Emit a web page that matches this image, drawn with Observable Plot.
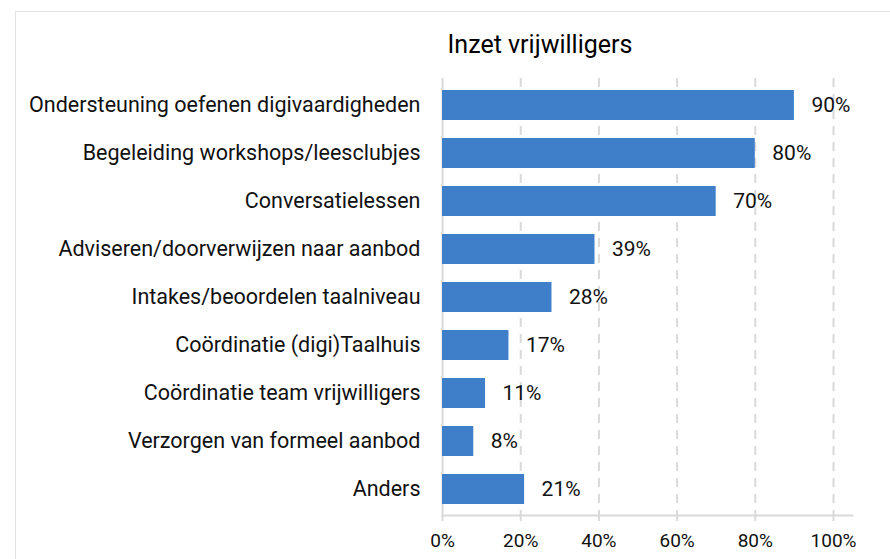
<!DOCTYPE html>
<html>
<head>
<meta charset="utf-8">
<script src="https://cdn.jsdelivr.net/npm/d3@7"></script>
<script src="https://cdn.jsdelivr.net/npm/@observablehq/plot@0.6"></script>
<style>
  body { margin: 0; background: #fff; font-family: Roboto, sans-serif; }
  #wrap { position: relative; width: 890px; height: 559px; overflow: hidden; }
  #frame { position: absolute; left: 15px; top: 11px; width: 900px; height: 600px;
           border-left: 1.5px solid #e2e2e2; border-top: 1.5px solid #e2e2e2; pointer-events: none; }
  #title { position: relative; height: 70px; width: 1080px; text-align: center;
           font-size: 25px; font-weight: 400; line-height: 90px; color: #000; }
  #chart svg { display: block; }
</style>
</head>
<body>
<div id="wrap">
  <div id="frame"></div>
  <div id="title">Inzet vrijwilligers</div>
  <div id="chart"></div>
</div>
<script>
const categories = [
  "Ondersteuning oefenen digivaardigheden",
  "Begeleiding workshops/leesclubjes",
  "Conversatielessen",
  "Adviseren/doorverwijzen naar aanbod",
  "Intakes/beoordelen taalniveau",
  "Coördinatie (digi)Taalhuis",
  "Coördinatie team vrijwilligers",
  "Verzorgen van formeel aanbod",
  "Anders"
];
const values = [90, 80, 70, 39, 28, 17, 11, 8, 21];
const xTicks = [0, 20, 40, 60, 80, 100];

const data = categories.map((c, i) => ({category: c, value: values[i]}));

const chart = Plot.plot({
  width: 890,
  height: 489,
  marginLeft: 442,
  marginRight: 38,
  marginTop: 8,
  marginBottom: 44,
  style: {fontFamily: "Roboto, sans-serif", background: "transparent", overflow: "visible"},
  x: {domain: [0, 104.86], ticks: xTicks, label: null},
  y: {domain: categories, paddingInner: 0.38, paddingOuter: 0.19, label: null},
  marks: [
    Plot.gridX(xTicks.filter(d => d > 0), {stroke: "#d9d9d9", strokeOpacity: 1, strokeWidth: 2, strokeDasharray: "9,7"}),
    Plot.ruleX([0], {stroke: "#d9d9d9", strokeWidth: 2}),
    Plot.frame({anchor: "bottom", stroke: "#d9d9d9", strokeWidth: 2}),
    Plot.barX(data, {x: "value", y: "category", fill: "#3f7fca"}),
    Plot.text(data, {x: "value", y: "category", text: d => d.value + "%", textAnchor: "start", dx: 17, fontSize: 21, fill: "#111"}),
    Plot.axisX({ticks: xTicks, tickFormat: d => d + "%", tickSize: 6, stroke: "#d9d9d9", strokeWidth: 2, tickPadding: 12, fontSize: 19, fill: "#111", label: null}),
    Plot.axisY({tickSize: 0, tickPadding: 22, fontSize: 21.5, fill: "#111", label: null})
  ]
});
chart.querySelectorAll("g[aria-label='x-axis tick']").forEach(e => e.setAttribute("stroke-opacity", 1));
document.getElementById("chart").appendChild(chart);
</script>
</body>
</html>
